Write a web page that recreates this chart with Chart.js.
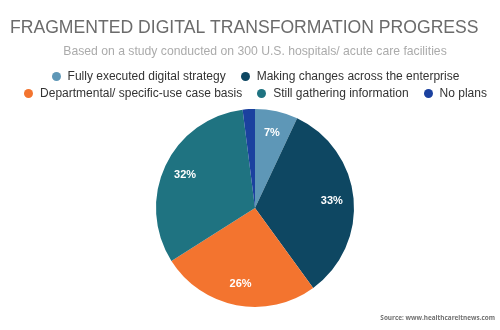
<!DOCTYPE html>
<html>
<head>
<meta charset="utf-8">
<script src="https://cdn.jsdelivr.net/npm/chart.js@4"></script>
<style>
  body { margin: 0; background: #fff; }
  #wrap { position: relative; width: 500px; height: 330px; }
  #legend {
    position: absolute; left: 11px; right: 0; top: 68.5px;
    display: flex; flex-wrap: wrap; justify-content: center;
    column-gap: 15px; row-gap: 2px;
    font: 12px "Liberation Sans", Arial, sans-serif; color: #333;
  }
  #legend .item { display: flex; align-items: center; line-height: 15px; white-space: nowrap; }
  #legend .dot { width: 9px; height: 9px; border-radius: 50%; margin-right: 7px; }
</style>
</head>
<body>
<div id="wrap">
  <canvas id="pieChart" width="500" height="330"></canvas>
  <div id="legend"></div>
</div>
<script>
// Data
const categories = [
    'Fully executed digital strategy',
    'Making changes across the enterprise',
    'Departmental/ specific-use case basis',
    'Still gathering information',
    'No plans'
];
const shares = [7, 33, 26, 32, 2];
const colors = ['#5e97b7', '#0e4762', '#f3742f', '#1f7381', '#1b419f'];

// White percent labels inside the slices
const sliceLabels = {
    id: 'sliceLabels',
    afterDatasetsDraw(chart) {
        const ctx = chart.ctx;
        const meta = chart.getDatasetMeta(0);
        ctx.save();
        ctx.fillStyle = '#fff';
        ctx.font = 'bold 11px "Liberation Sans", Arial, sans-serif';
        ctx.textAlign = 'center';
        ctx.textBaseline = 'middle';
        meta.data.forEach((arc, i) => {
            if (shares[i] < 5) return;
            const p = arc.getProps(['x', 'y', 'startAngle', 'endAngle', 'outerRadius'], true);
            const mid = (p.startAngle + p.endAngle) / 2;
            const r = p.outerRadius * 0.78;
            ctx.fillText(shares[i] + '%', p.x + Math.cos(mid) * r, p.y + Math.sin(mid) * r);
        });
        ctx.restore();
    }
};

// Source note in the bottom right corner
const sourceNote = {
    id: 'sourceNote',
    afterDraw(chart) {
        const ctx = chart.ctx;
        ctx.save();
        ctx.fillStyle = '#707070';
        ctx.font = 'bold 6.4px "Open Sans", sans-serif';
        ctx.textAlign = 'right';
        ctx.textBaseline = 'middle';
        ctx.fillText('Source: www.healthcareitnews.com', 495, 318);
        ctx.restore();
    }
};

const ctx = document.getElementById('pieChart').getContext('2d');
const chart = new Chart(ctx, {
    type: 'pie',
    data: {
        labels: categories,
        datasets: [{
            data: shares,
            backgroundColor: colors,
            borderWidth: 0,
            radius: 99
        }]
    },
    options: {
        responsive: false,
        animation: false,
        layout: { padding: { left: 10, right: 0, top: 0, bottom: 12 } },
        plugins: {
            legend: { display: false },
            tooltip: { enabled: false },
            title: {
                display: true,
                text: 'FRAGMENTED DIGITAL TRANSFORMATION PROGRESS',
                align: 'start',
                color: '#6b6b6b',
                font: { family: '"Liberation Sans", Arial, sans-serif', size: 17.6, weight: 'normal' },
                padding: { top: 18, bottom: 5 }
            },
            subtitle: {
                display: true,
                text: 'Based on a study conducted on 300 U.S. hospitals/ acute care facilities',
                color: '#ababab',
                font: { family: '"Liberation Sans", Arial, sans-serif', size: 12.2 },
                padding: { top: 0, bottom: 39 }
            }
        }
    },
    plugins: [sliceLabels, sourceNote]
});

// HTML legend built from the chart's own legend items
const legendBox = document.getElementById('legend');
chart.options.plugins.legend.labels.generateLabels(chart).forEach(item => {
    const el = document.createElement('div');
    el.className = 'item';
    const dot = document.createElement('span');
    dot.className = 'dot';
    dot.style.background = item.fillStyle;
    const txt = document.createElement('span');
    txt.textContent = item.text;
    el.appendChild(dot);
    el.appendChild(txt);
    legendBox.appendChild(el);
});
</script>
</body>
</html>
